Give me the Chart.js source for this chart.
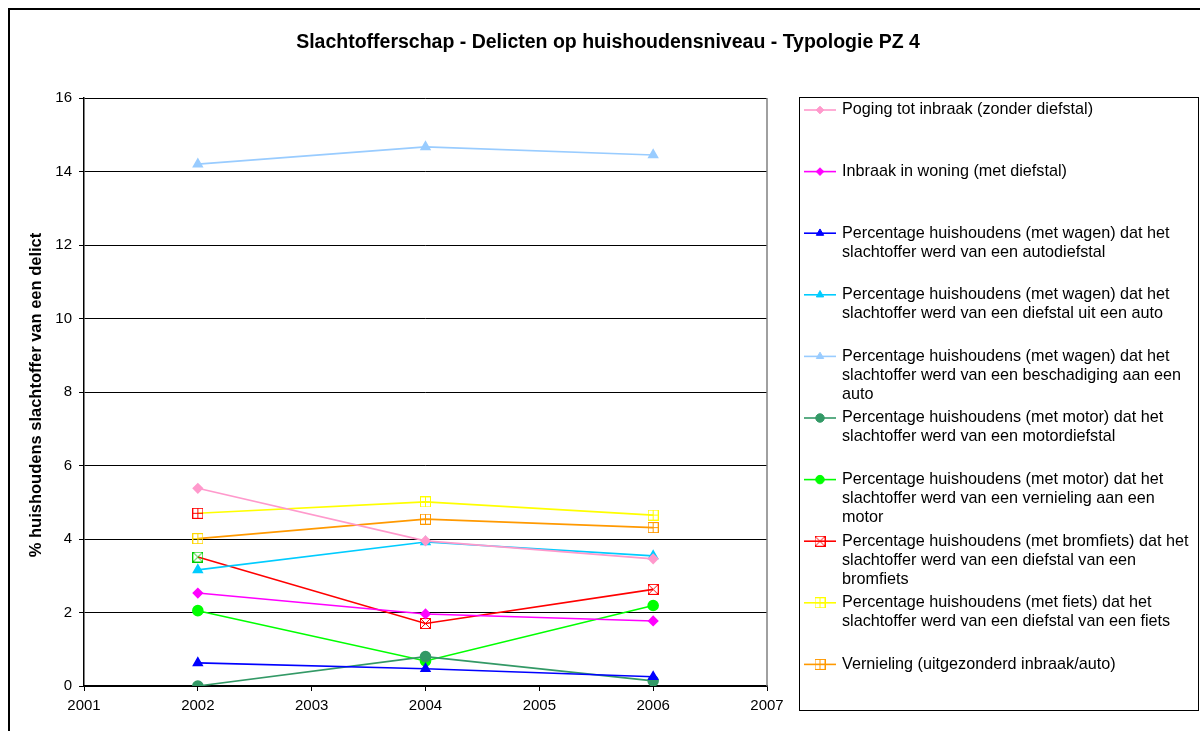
<!DOCTYPE html>
<html>
<head>
<meta charset="utf-8">
<script src="https://cdn.jsdelivr.net/npm/chart.js@4.4.0/dist/chart.umd.min.js"></script>
<style>
  body { margin: 0; background: #fff; }
  #wrap { width: 1200px; height: 731px; position: relative; }
</style>
</head>
<body>
<div id="wrap"><canvas id="myChart" width="1200" height="731"></canvas></div>
<script>
// data
const years = [2002, 2004, 2006];
const yTicks = [0, 2, 4, 6, 8, 10, 12, 14, 16];
const xTicks = [2001, 2002, 2003, 2004, 2005, 2006, 2007];

const pogingTotInbraak = [5.38, 3.95, 3.46];
const inbraakWoning = [2.53, 1.96, 1.77];
const autodiefstal = [0.63, 0.47, 0.25];
const diefstalUitAuto = [3.16, 3.92, 3.54];
const beschadigingAuto = [14.2, 14.67, 14.45];
const motordiefstal = [0.0, 0.80, 0.14];
const vernielingMotor = [2.05, 0.68, 2.19];
const diefstalBromfiets = [3.51, 1.70, 2.63];
const diefstalFiets = [4.70, 5.01, 4.65];
const vernieling = [4.01, 4.54, 4.31];

const seriesNames = [
  ['Poging tot inbraak (zonder diefstal)'],
  ['Inbraak in woning (met diefstal)'],
  ['Percentage huishoudens (met wagen) dat het', 'slachtoffer werd van een autodiefstal'],
  ['Percentage huishoudens (met wagen) dat het', 'slachtoffer werd van een diefstal uit een auto'],
  ['Percentage huishoudens (met wagen) dat het', 'slachtoffer werd van een beschadiging aan een', 'auto'],
  ['Percentage huishoudens (met motor) dat het', 'slachtoffer werd van een motordiefstal'],
  ['Percentage huishoudens (met motor) dat het', 'slachtoffer werd van een vernieling aan een', 'motor'],
  ['Percentage huishoudens (met bromfiets) dat het', 'slachtoffer werd van een diefstal van een', 'bromfiets'],
  ['Percentage huishoudens (met fiets) dat het', 'slachtoffer werd van een diefstal van een fiets'],
  ['Vernieling (uitgezonderd inbraak/auto)']
];

// boxed markers like in Excel
function boxMarker(color, kind) {
  const c = document.createElement('canvas');
  c.width = 11; c.height = 11;
  const g = c.getContext('2d');
  g.strokeStyle = color;
  g.lineWidth = 1;
  g.strokeRect(0.5, 0.5, 10, 10);
  g.beginPath();
  if (kind === 'x') {
    g.moveTo(1, 1); g.lineTo(10, 10);
    g.moveTo(10, 1); g.lineTo(1, 10);
  } else {
    g.moveTo(5.5, 1); g.lineTo(5.5, 10);
    g.moveTo(1, 5.5); g.lineTo(10, 5.5);
  }
  g.stroke();
  return c;
}

function pts(vals) {
  return vals.map((v, i) => ({ x: years[i], y: v }));
}

function serie(vals, color, style, radius) {
  return {
    data: pts(vals),
    borderColor: color,
    backgroundColor: color,
    borderWidth: 1.6,
    pointStyle: style,
    pointRadius: radius,
    pointBorderColor: color,
    pointBackgroundColor: color,
    tension: 0
  };
}

const datasets = [
  serie(pogingTotInbraak, '#FF99CC', 'rectRot', 4.5),
  serie(inbraakWoning, '#FF00FF', 'rectRot', 4.5),
  serie(autodiefstal, '#0000FF', 'triangle', 5),
  serie(diefstalUitAuto, '#00CCFF', 'triangle', 5),
  serie(beschadigingAuto, '#99CCFF', 'triangle', 5),
  serie(motordiefstal, '#339966', 'circle', 5),
  serie(vernielingMotor, '#00FF00', 'circle', 5),
  serie(diefstalBromfiets, '#FF0000', boxMarker('#FF0000', 'x'), 5),
  serie(diefstalFiets, '#FFFF00', boxMarker('#FFFF00', 'plus'), 5),
  serie(vernieling, '#FF9900', boxMarker('#FF9900', 'plus'), 5)
];
// odd marker colours on the 2002 points in the original
datasets[7].pointStyle = [boxMarker('#00CC00', 'x'), boxMarker('#FF0000', 'x'), boxMarker('#FF0000', 'x')];
datasets[8].pointStyle = [boxMarker('#FF0000', 'plus'), boxMarker('#FFFF00', 'plus'), boxMarker('#FFFF00', 'plus')];
datasets[9].pointStyle = [boxMarker('#FFD700', 'plus'), boxMarker('#FF9900', 'plus'), boxMarker('#FF9900', 'plus')];

const FONT = "'Liberation Sans', Arial, sans-serif";

const decor = {
  id: 'decor',
  beforeDraw(chart) {
    const c = chart.ctx;
    c.save();
    c.fillStyle = '#fff';
    c.fillRect(0, 0, chart.width, chart.height);
    c.restore();
  },
  afterDraw(chart) {
    const c = chart.ctx;
    const area = chart.chartArea;
    c.save();
    // outer frame
    c.strokeStyle = '#000';
    c.lineWidth = 2;
    c.beginPath();
    c.moveTo(9, 740); c.lineTo(9, 9); c.lineTo(1210, 9);
    c.stroke();

    // plot right border
    c.strokeStyle = '#808080';
    c.lineWidth = 1.5;
    c.beginPath();
    c.moveTo(area.right, area.top); c.lineTo(area.right, area.bottom);
    c.stroke();

    // title
    c.fillStyle = '#000';
    c.font = 'bold 19.5px ' + FONT;
    c.textAlign = 'center';
    c.textBaseline = 'middle';
    c.fillText('Slachtofferschap - Delicten op huishoudensniveau - Typologie PZ 4', 608, 43);

    // y axis title
    c.save();
    c.translate(36, 395);
    c.rotate(-Math.PI / 2);
    c.font = 'bold 16.5px ' + FONT;
    c.fillText('% huishoudens slachtoffer van een delict', 0, 0);
    c.restore();

    // legend box
    c.strokeStyle = '#000';
    c.lineWidth = 1;
    c.strokeRect(799.5, 97.5, 399, 613);
    c.font = '16.2px ' + FONT;
    c.textAlign = 'left';
    c.textBaseline = 'middle';
    datasets.forEach((ds, i) => {
      const y0 = 110 + i * 61.6;
      c.strokeStyle = ds.borderColor;
      c.fillStyle = ds.borderColor;
      c.lineWidth = 1.6;
      c.beginPath();
      c.moveTo(804, y0); c.lineTo(836, y0);
      c.stroke();
      const style = Array.isArray(ds.pointStyle) ? ds.pointStyle[1] : ds.pointStyle;
      c.lineWidth = 1;
      Chart.helpers.drawPoint(c, {
        pointStyle: style,
        radius: ds.pointRadius * 0.85,
        borderWidth: 1,
        rotation: 0
      }, 820, y0);
      c.fillStyle = '#000';
      seriesNames[i].forEach((line, j) => {
        c.fillText(line, 842, y0 + j * 19);
      });
    });
    c.restore();
  }
};

Chart.defaults.font.family = FONT;
Chart.defaults.color = '#000';

const ctx = document.getElementById('myChart');
new Chart(ctx, {
  type: 'line',
  data: { datasets: datasets },
  options: {
    responsive: false,
    animation: false,
    layout: { padding: { top: 98, right: 433, left: 0, bottom: 0 } },
    plugins: {
      legend: { display: false },
      title: { display: false },
      tooltip: { enabled: false }
    },
    scales: {
      x: {
        type: 'linear',
        min: 2001,
        max: 2007,
        afterBuildTicks: (scale) => { scale.ticks = xTicks.map(v => ({ value: v })); },
        afterFit: (scale) => { scale.height = 45; },
        ticks: {
          font: { size: 15 },
          padding: 6,
          callback: (v) => String(v),
          maxRotation: 0
        },
        grid: {
          drawOnChartArea: false,
          color: '#000',
          tickLength: 5,
          tickColor: '#000'
        },
        border: { color: '#000', width: 1.5 }
      },
      y: {
        min: 0,
        max: 16,
        afterBuildTicks: (scale) => { scale.ticks = yTicks.map(v => ({ value: v })); },
        afterFit: (scale) => { scale.width = 84; },
        ticks: {
          font: { size: 15 },
          padding: 7
        },
        grid: {
          color: '#000',
          lineWidth: 1,
          tickLength: 5,
          tickColor: '#000'
        },
        border: { color: '#000', width: 1.5 }
      }
    }
  },
  plugins: [decor]
});
</script>
</body>
</html>
